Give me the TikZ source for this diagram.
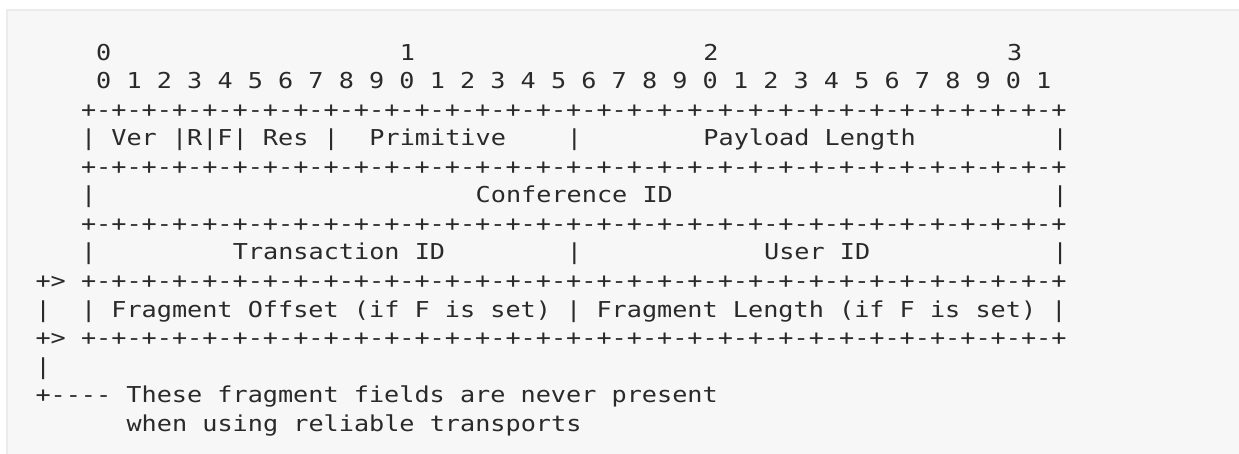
\documentclass[tikz,border=0pt]{standalone}
\usepackage{fontspec}
\setmonofont[FakeStretch=1.15]{DejaVu Sans Mono}
\definecolor{panelfill}{HTML}{F7F7F7}
\definecolor{panelrule}{HTML}{EBEBEB}
\definecolor{ink}{HTML}{2A2A2A}
\tikzset{
  txt/.style={anchor=base west, inner sep=0pt, outer sep=0pt, text=ink,
    font=\fontsize{21.9}{28}\selectfont\ttfamily}
}
% one text run placed on the character grid: name, column, line, text
\newcommand\cell[4]{\node[txt] (#1) at ({35.5+15.18*#2},{60.5+28.5*(#3-1)}) {#4};}
\newcommand\border{+-+-+-+-+-+-+-+-+-+-+-+-+-+-+-+-+-+-+-+-+-+-+-+-+-+-+-+-+-+-+-+-+}
\begin{document}
\begin{tikzpicture}[x=1pt,y=-1pt]
\useasboundingbox (0,0) rectangle (1239,454);
% code block panel
\fill[panelfill] (7,10) rectangle (1250,470);
\draw[panelrule, line width=1.5pt] (7,470) -- (7,10) -- (1250,10);

% bit ruler
\cell{h0}{4}{1}{0}
\cell{h1}{24}{1}{1}
\cell{h2}{44}{1}{2}
\cell{h3}{64}{1}{3}
\cell{bits}{4}{2}{0 1 2 3 4 5 6 7 8 9 0 1 2 3 4 5 6 7 8 9 0 1 2 3 4 5 6 7 8 9 0 1}

% word 1
\cell{b1}{3}{3}{\border}
\cell{w1a}{3}{4}{| Ver |R|F| Res |}
\cell{prim}{22}{4}{Primitive}
\cell{w1b}{35}{4}{|}
\cell{plen}{44}{4}{Payload Length}
\cell{w1c}{67}{4}{|}

% word 2
\cell{b2}{3}{5}{\border}
\cell{w2a}{3}{6}{|}
\cell{conf}{29}{6}{Conference ID}
\cell{w2b}{67}{6}{|}

% word 3
\cell{b3}{3}{7}{\border}
\cell{w3a}{3}{8}{|}
\cell{trans}{13}{8}{Transaction ID}
\cell{w3b}{35}{8}{|}
\cell{user}{48}{8}{User ID}
\cell{w3c}{67}{8}{|}

% optional fragment word
\cell{m1}{0}{9}{+>}
\cell{b4}{3}{9}{\border}
\cell{m2}{0}{10}{|}
\cell{frag}{3}{10}{| Fragment Offset (if F is set) | Fragment Length (if F is set) |}
\cell{m3}{0}{11}{+>}
\cell{b5}{3}{11}{\border}

% note
\cell{m4}{0}{12}{|}
\cell{note1}{0}{13}{+---- These fragment fields are never present}
\cell{note2}{6}{14}{when using reliable transports}
\end{tikzpicture}
\end{document}
